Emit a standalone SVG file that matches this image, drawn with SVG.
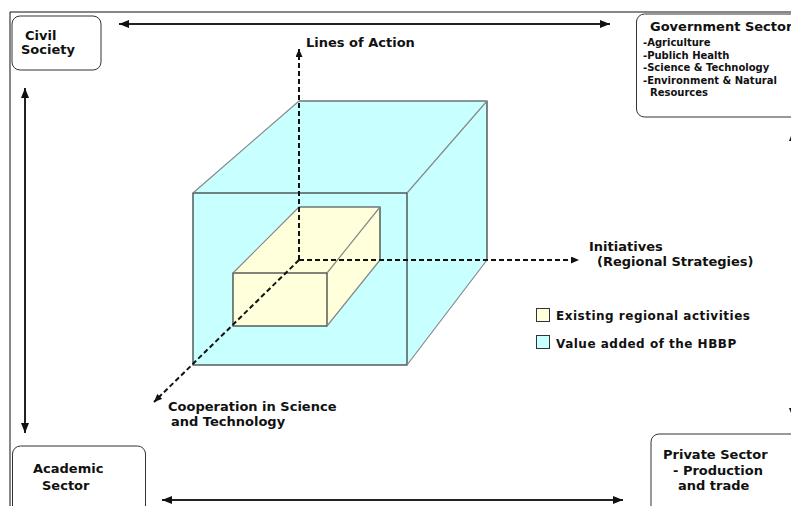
<svg xmlns="http://www.w3.org/2000/svg" width="791" height="506" viewBox="0 0 791 506">
  <style>
    text { font-family: "DejaVu Sans", Verdana, sans-serif; font-weight: bold; fill: #111; }
    .lbl { font-size: 13px; }
    .sub { font-size: 10px; }
    .leg { font-size: 12px; letter-spacing: 0.5px; }
    .box { fill: #fff; stroke: #333; stroke-width: 1; }
    .rel { stroke: #222; stroke-width: 2; fill: none; }
    .axis { stroke: #111; stroke-width: 2; stroke-dasharray: 5 3; fill: none; }
    .edge { stroke: #333; stroke-width: 1.2; fill: none; }
    .diag { stroke: #888; stroke-width: 1.2; fill: none; }
    .outer { fill: #C8FFFF; }
    .inner { fill: #FFFFDC; }
  </style>
  <defs>
    <marker id="head" viewBox="0 0 10 8" refX="10" refY="4" markerWidth="10" markerHeight="8" markerUnits="userSpaceOnUse" orient="auto-start-reverse">
      <path d="M0,0 L10,4 L0,8 Z" fill="#111"/>
    </marker>
    <marker id="headS" viewBox="0 0 8 7" refX="8" refY="3.5" markerWidth="8" markerHeight="7" markerUnits="userSpaceOnUse" orient="auto-start-reverse">
      <path d="M0,0 L8,3.5 L0,7 Z" fill="#111"/>
    </marker>
  </defs>

  <!-- outer frame -->
  <path d="M10,506 V12 H791" fill="none" stroke="#111" stroke-width="1"/>

  <!-- outer block: value added -->
  <g id="outer-block">
    <polygon class="outer" points="193,193 299,101 487,101 487,260 407,365 193,365"/>
    <rect class="edge" x="193" y="193" width="214" height="172"/>
    <path class="edge" d="M299,101 H487 V260"/>
    <path class="diag" d="M193,193 L299,101 M407,193 L487,101 M407,365 L487,260"/>
  </g>

  <!-- inner block: existing activities -->
  <g id="inner-block">
    <polygon class="inner" points="233,273 299,207 380,207 380,260 327,326 233,326"/>
    <rect class="edge" x="233" y="273" width="94" height="53"/>
    <path class="edge" d="M299,207 H380 V260"/>
    <path class="diag" d="M233,273 L299,207 M327,273 L380,207 M327,326 L380,260"/>
  </g>

  <!-- connectors: dimension axes and sector relations -->
  <g id="connectors">
    <path class="axis" d="M299,260 V49" marker-end="url(#headS)"/>
    <path class="axis" d="M299,260 H579" marker-end="url(#headS)"/>
    <path class="axis" d="M299,260 L154,402" marker-end="url(#headS)"/>
    <line class="rel" x1="119" y1="24" x2="610" y2="24" marker-start="url(#head)" marker-end="url(#head)"/>
    <line class="rel" x1="162" y1="500" x2="623" y2="500" marker-start="url(#head)" marker-end="url(#head)"/>
    <line class="rel" x1="25" y1="88" x2="25" y2="433" stroke="#333" marker-start="url(#head)" marker-end="url(#head)"/>
    <line class="rel" x1="793" y1="131" x2="793" y2="418" marker-start="url(#head)" marker-end="url(#head)"/>
  </g>

  <!-- axis labels -->
  <g id="axis-labels">
    <text class="lbl" x="306" y="47">Lines of Action</text>
    <text class="lbl" x="589" y="251">Initiatives</text>
    <text class="lbl" x="597" y="266">(Regional Strategies)</text>
    <text class="lbl" x="168" y="410.5" font-size="12.5">Cooperation in Science</text>
    <text class="lbl" x="171" y="426" font-size="12.5">and Technology</text>
  </g>

  <!-- legend -->
  <g id="legend">
    <rect x="536.5" y="308.5" width="13" height="13" fill="#FFFFDC" stroke="#333"/>
    <text class="leg" x="556" y="320">Existing regional activities</text>
    <rect x="536.5" y="335.5" width="13" height="13" fill="#C8FFFF" stroke="#333"/>
    <text class="leg" x="556" y="348">Value added of the HBBP</text>
  </g>

  <!-- sector nodes -->
  <g id="civil-society">
    <rect class="box" x="12" y="16" width="89" height="54" rx="8"/>
    <text class="lbl" x="25" y="40">Civil</text>
    <text class="lbl" x="21" y="54">Society</text>
  </g>

  <g id="government-sector">
    <rect class="box" x="636.5" y="14" width="170" height="103" rx="8"/>
    <text class="lbl" x="650" y="31">Government Sector</text>
    <text class="sub" x="643" y="46">-Agriculture</text>
    <text class="sub" x="643" y="58.5">-Publich Health</text>
    <text class="sub" x="643" y="71">-Science &amp;  Technology</text>
    <text class="sub" x="643" y="83.5">-Environment &amp; Natural</text>
    <text class="sub" x="650" y="96">Resources</text>
  </g>

  <g id="academic-sector">
    <rect class="box" x="12.5" y="446" width="133" height="70" rx="8"/>
    <text class="lbl" x="33" y="473" font-size="14">Academic</text>
    <text class="lbl" x="42" y="490" font-size="14">Sector</text>
  </g>

  <g id="private-sector">
    <rect class="box" x="651" y="434" width="160" height="82" rx="8"/>
    <text class="lbl" x="663" y="459">Private Sector</text>
    <text class="lbl" x="673" y="475">- Production</text>
    <text class="lbl" x="678" y="490">and trade</text>
  </g>
</svg>
